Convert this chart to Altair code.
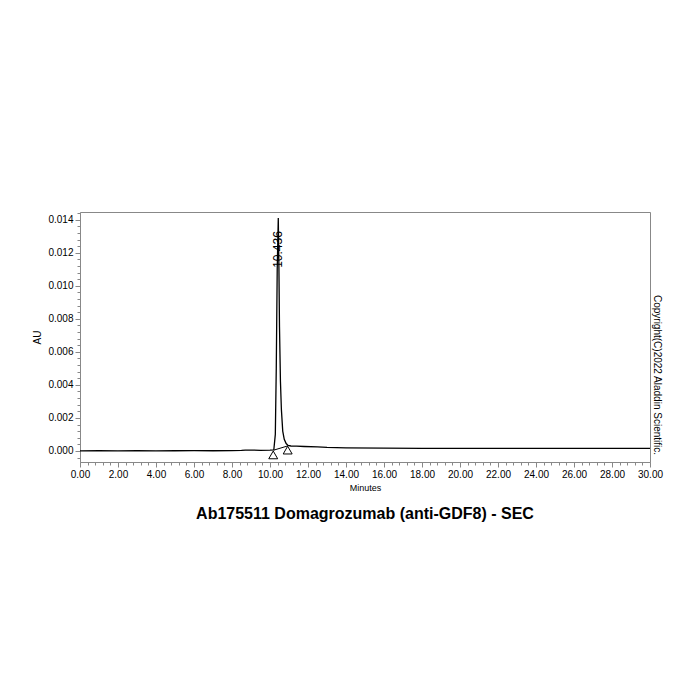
import altair as alt
import pandas as pd

# chromatogram trace
minutes = [0.0, 1.0, 2.0, 3.0, 4.0, 5.0, 6.0, 7.0, 8.0, 8.5, 8.7, 9.0, 9.5, 10.0, 10.2,
           10.28, 10.33, 10.38, 10.436, 10.47, 10.5, 10.55, 10.6, 10.67, 10.75, 10.85, 10.95,
           11.1, 11.4, 11.8, 12.5, 13.0, 14.0, 16.0, 18.0, 20.0, 22.0, 24.0, 26.0, 28.0, 30.0]
au = [0.00000, 0.00001, 0.00000, 0.00001, 0.00000, 0.00001, 0.00002, 0.00001, 0.00002, 0.00003,
      0.00005, 0.00005, 0.00004, 0.00005, 0.00006,
      0.0010, 0.0050, 0.0110, 0.0141, 0.0110, 0.0075, 0.0042, 0.0025, 0.0012, 0.0007, 0.00045, 0.00033,
      0.00030, 0.00029, 0.00027, 0.00024, 0.00021, 0.00019, 0.00017, 0.00016, 0.00016, 0.00015,
      0.00015, 0.00015, 0.00015, 0.00016]

# integration baseline and peak markers
base_t = [10.2, 10.95]
base_au = [0.00005, 0.00031]
marker_t = [10.17, 10.93]
marker_au = [-0.00024, 0.00005]
peak_rt = [10.436]
peak_label_au = [0.0122]
peak_text = ["10.436"]

x_major = [0, 2, 4, 6, 8, 10, 12, 14, 16, 18, 20, 22, 24, 26, 28, 30]
x_minor = [round(i * 0.4, 2) for i in range(76)]
y_major = [0.0, 0.002, 0.004, 0.006, 0.008, 0.010, 0.012, 0.014]
y_minor = [round(i * 0.0004, 5) for i in range(-1, 37)]

FONT = "Liberation Sans"

trace = pd.DataFrame({"t": minutes, "au": au})
base = pd.DataFrame({"t": base_t, "au": base_au})
marks = pd.DataFrame({"t": marker_t, "au": marker_au})
peak = pd.DataFrame({"t": peak_rt, "au": peak_label_au, "lab": peak_text})

xs = alt.Scale(domain=[0, 30], nice=False)
ys = alt.Scale(domain=[-0.00067, 0.01447], nice=False)

line = alt.Chart(trace).mark_line(color="black", strokeWidth=1.3).encode(
    x=alt.X("t:Q", scale=xs, title="Minutes",
            axis=alt.Axis(values=x_major, format=".2f", orient="bottom", grid=False,
                          labelFlush=False, labelOverlap=False,
                          tickSize=5, labelPadding=2, titlePadding=4, titleFontWeight="normal",
                          titleFontSize=9, labelFontSize=10)),
    y=alt.Y("au:Q", scale=ys, title="AU",
            axis=alt.Axis(values=y_major, format=".3f", orient="left", grid=False,
                          labelFlush=False, labelOverlap=False,
                          tickSize=5, labelPadding=2, titlePadding=5, titleFontWeight="normal",
                          titleFontSize=10, labelFontSize=10)),
)

minor = alt.Chart(trace).mark_point(opacity=0).encode(
    x=alt.X("t:Q", scale=xs, title=None,
            axis=alt.Axis(values=x_minor, labels=False, orient="bottom", grid=False,
                          tickSize=3, domain=False)),
    y=alt.Y("au:Q", scale=ys, title=None,
            axis=alt.Axis(values=y_minor, labels=False, orient="left", grid=False,
                          tickSize=3, domain=False)),
)

# top / right frame lines
frame_x = alt.Axis(orient="top", labels=False, ticks=False, grid=False, title=None)
frame_y = alt.Axis(orient="right", labels=False, ticks=False, grid=False, title=None)
baseline = alt.Chart(base).mark_line(color="black", strokeWidth=1).encode(
    x=alt.X("t:Q", scale=xs, axis=frame_x), y=alt.Y("au:Q", scale=ys, axis=frame_y))

tri = alt.Chart(marks).mark_point(shape="triangle-up", filled=False, color="black",
                                  size=80, strokeWidth=1, opacity=1).encode(
    x=alt.X("t:Q", scale=xs, axis=None), y=alt.Y("au:Q", scale=ys, axis=None))

label = alt.Chart(peak).mark_text(angle=270, align="center", baseline="middle",
                                  fontSize=12, font=FONT, color="black").encode(
    x=alt.X("t:Q", scale=xs, axis=None), y=alt.Y("au:Q", scale=ys, axis=None), text="lab:N")

copyright = alt.Chart(peak).mark_text(angle=90, align="center", baseline="middle",
                                      fontSize=10, font=FONT, color="black").encode(
    x=alt.value(577), y=alt.value(163), text=alt.value("Copyright(C)2022 Aladdin Scientific."))

chart = alt.layer(line, minor, baseline, tri, label, copyright).resolve_axis(
    x="independent", y="independent"
).properties(
    width=570, height=250,
    autosize=alt.AutoSizeParams(type="none"),
    padding={"left": 72, "top": 204, "right": 40, "bottom": 120},
    title=alt.Title("Ab175511 Domagrozumab (anti-GDF8) - SEC", orient="bottom",
                    anchor="middle", fontSize=16, fontWeight="bold", font=FONT,
                    color="black", offset=14),
).configure_view(stroke="black", strokeWidth=1).configure_axis(
    labelFont=FONT, titleFont=FONT, labelColor="black", titleColor="black",
    domainColor="black", tickColor="black", domainWidth=1, tickWidth=1
).configure(background="white")

chart.save("out.html", embed_options={"renderer": "svg", "actions": False})
